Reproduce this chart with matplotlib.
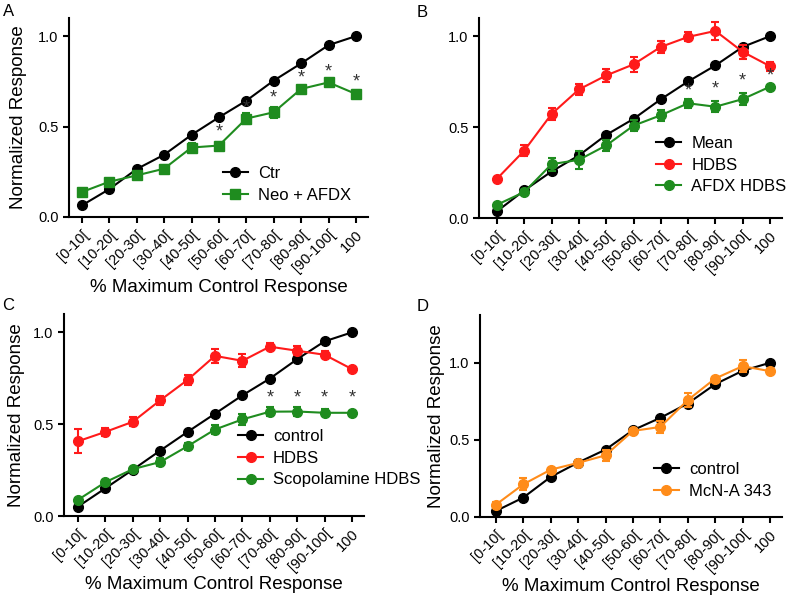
import matplotlib
matplotlib.use('Agg')
import matplotlib.pyplot as plt

plt.rcParams['font.family'] = ['Liberation Sans', 'DejaVu Sans']

bins = ['[0-10[', '[10-20[', '[20-30[', '[30-40[', '[40-50[', '[50-60[',
        '[60-70[', '[70-80[', '[80-90[', '[90-100[', '100']

# panel A
a_ctr = [0.064, 0.154, 0.265, 0.344, 0.454, 0.551, 0.643, 0.754, 0.849, 0.950, 1.0]
a_neo = [0.138, 0.195, 0.230, 0.267, 0.384, 0.395, 0.544, 0.579, 0.708, 0.744, 0.680]
a_neo_err = [0.01, 0.01, 0.015, 0.02, 0.025, 0.02, 0.03, 0.03, 0.015, 0.015, 0.02]
a_star_idx = [5, 6, 7, 8, 9, 10]
a_star_y = [0.472, 0.600, 0.660, 0.767, 0.803, 0.744]

# panel B
b_mean = [0.037, 0.152, 0.256, 0.344, 0.457, 0.545, 0.653, 0.751, 0.839, 0.941, 1.0]
b_hdbs = [0.216, 0.371, 0.572, 0.707, 0.784, 0.845, 0.941, 0.996, 1.029, 0.914, 0.835]
b_hdbs_err = [0.01, 0.03, 0.035, 0.03, 0.035, 0.04, 0.035, 0.025, 0.05, 0.04, 0.025]
b_afdx = [0.073, 0.143, 0.296, 0.320, 0.399, 0.508, 0.565, 0.631, 0.612, 0.654, 0.722]
b_afdx_err = [0.01, 0.01, 0.035, 0.05, 0.03, 0.03, 0.03, 0.025, 0.03, 0.035, 0.01]
b_star_idx = [7, 8, 9, 10]
b_star_y = [0.700, 0.707, 0.753, 0.780]

# panel C
c_ctrl = [0.051, 0.151, 0.252, 0.356, 0.458, 0.557, 0.657, 0.748, 0.854, 0.951, 1.0]
c_hdbs = [0.407, 0.458, 0.513, 0.630, 0.741, 0.872, 0.845, 0.922, 0.900, 0.878, 0.800]
c_hdbs_err = [0.065, 0.02, 0.025, 0.025, 0.025, 0.04, 0.035, 0.02, 0.025, 0.02, 0.01]
c_scop = [0.088, 0.184, 0.255, 0.294, 0.380, 0.471, 0.526, 0.568, 0.569, 0.562, 0.562]
c_scop_err = [0.01, 0.01, 0.01, 0.02, 0.02, 0.025, 0.03, 0.025, 0.025, 0.02, 0.01]
c_star_idx = [7, 8, 9, 10]
c_star_y = [0.642, 0.642, 0.642, 0.642]

# panel D
d_ctrl = [0.039, 0.126, 0.260, 0.353, 0.437, 0.563, 0.643, 0.736, 0.861, 0.948, 1.0]
d_mcn = [0.080, 0.212, 0.307, 0.351, 0.400, 0.558, 0.584, 0.758, 0.898, 0.978, 0.946]
d_mcn_err = [0.015, 0.04, 0.01, 0.02, 0.035, 0.01, 0.04, 0.045, 0.01, 0.04, 0.01]

GREEN = '#1f8c1f'
RED = '#ff1a1a'
ORANGE = '#ff8c1a'
x = list(range(len(bins)))

fig = plt.figure(figsize=(7.87, 6.0), dpi=100)
W, H = 787, 600


def make_ax(l, r, t, b, xmin, ymax):
    ax = fig.add_axes([l / W, 1 - b / H, (r - l) / W, (b - t) / H])
    ax.set_xlim(xmin, 10.44)
    ax.set_ylim(0, ymax)
    for s in ['top', 'right']:
        ax.spines[s].set_visible(False)
    for s in ['left', 'bottom']:
        ax.spines[s].set_linewidth(1.5)
    ax.tick_params(width=1.5, length=4, labelsize=10.5)
    ax.set_yticks([0.0, 0.5, 1.0])
    ax.set_yticklabels(['0.0', '0.5', '1.0'])
    ax.set_xticks(x)
    ax.set_xticklabels(bins, rotation=45, ha='right', rotation_mode='anchor')
    return ax


def series(ax, y, color, label, err=None, marker='o'):
    if err is not None:
        ax.errorbar(x, y, yerr=err, color=color, fmt='none', capsize=3,
                    capthick=1.5, elinewidth=1.5, clip_on=False)
    ax.plot(x, y, color=color, marker=marker, markersize=7, linewidth=1.5,
            label=label, clip_on=False)


def stars(ax, idx, ys):
    for i, yy in zip(idx, ys):
        ax.text(x[i], yy, '*', ha='center', va='center', fontsize=13, color='#333333')


def legend(ax, xa, ya):
    ax.legend(loc='upper left', bbox_to_anchor=(xa, ya), frameon=False, fontsize=12,
              handlelength=1.5, handletextpad=0.6, labelspacing=0.4,
              borderpad=0, borderaxespad=0)


def labels(ax, ylx, xly, ylab=True):
    if ylab:
        ax.set_ylabel('Normalized Response', fontsize=13.5)
        ax.yaxis.set_label_coords(ylx, 0.5)
    ax.set_xlabel('% Maximum Control Response', fontsize=13.5)
    ax.xaxis.set_label_coords(0.5, xly)


# A
axA = make_ax(69, 368, 18, 217, -0.47, 1.10)
series(axA, a_ctr, 'black', 'Ctr')
series(axA, a_neo, GREEN, 'Neo + AFDX', a_neo_err, marker='s')
stars(axA, a_star_idx, a_star_y)
legend(axA, 0.515, 0.256)
labels(axA, -0.14, -0.31)

# B
axB = make_ax(479, 782, 18, 218, -0.66, 1.10)
series(axB, b_mean, 'black', 'Mean')
series(axB, b_hdbs, RED, 'HDBS', b_hdbs_err)
series(axB, b_afdx, GREEN, 'AFDX HDBS', b_afdx_err)
stars(axB, b_star_idx, b_star_y)
legend(axB, 0.585, 0.41)

# C
axC = make_ax(64, 364, 314, 516, -0.51, 1.10)
series(axC, c_ctrl, 'black', 'control')
series(axC, c_hdbs, RED, 'HDBS', c_hdbs_err)
series(axC, c_scop, GREEN, 'Scopolamine HDBS', c_scop_err)
stars(axC, c_star_idx, c_star_y)
legend(axC, 0.58, 0.43)
labels(axC, -0.13, -0.297)

# D
axD = make_ax(480, 782, 315, 517, -0.58, 1.31)
series(axD, d_ctrl, 'black', 'control')
series(axD, d_mcn, ORANGE, 'McN-A 343', d_mcn_err)
legend(axD, 0.576, 0.272)
labels(axD, -0.116, -0.302)

for letter, px, py in [('A', 3, 4), ('B', 417, 5), ('C', 2, 298), ('D', 417, 299)]:
    fig.text(px / W, 1 - py / H, letter, fontsize=12, va='top', ha='left')

fig.savefig('out.png', dpi=100)
